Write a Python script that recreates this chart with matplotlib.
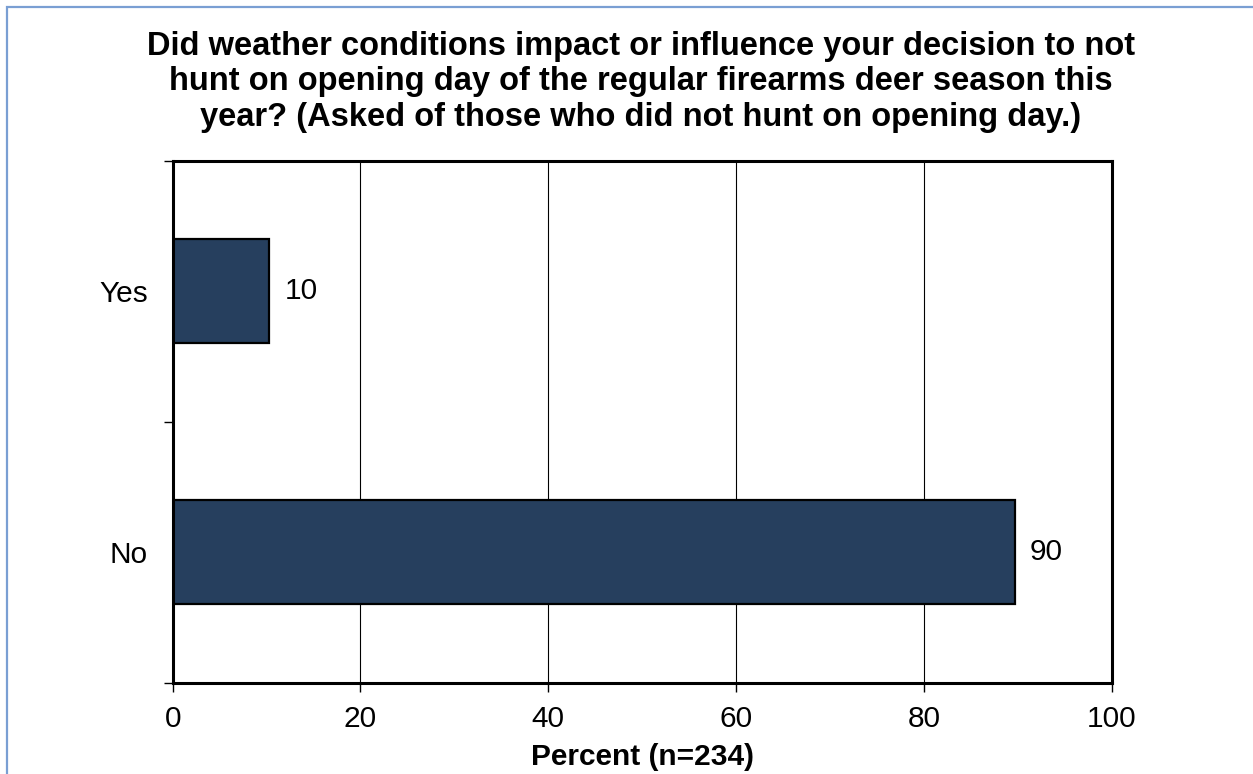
import matplotlib.pyplot as plt
from matplotlib.patches import Rectangle

plt.rcParams.update(
    {
        "font.family": ["Liberation Sans", "DejaVu Sans"],
        "figure.dpi": 100,
    }
)

categories = ["No", "Yes"]
percent = [89.7, 10.3]
bar_labels = ["90", "10"]
x_ticks = [0, 20, 40, 60, 80, 100]
title = (
    "Did weather conditions impact or influence your decision to not\n"
    "hunt on opening day of the regular firearms deer season this\n"
    "year? (Asked of those who did not hunt on opening day.)"
)
x_label = "Percent (n=234)"

BAR = "#263f5e"
FS = 21.5

fig = plt.figure(figsize=(12.53, 7.74))
ax = fig.add_axes([0.1378, 0.1182, 0.7494, 0.6742])

# light blue chart-area border (runs off the right and bottom edges)
fig.patches.append(
    Rectangle((6.5 / 1253, -0.05), 1.2, 1 - 6.5 / 774 + 0.05, transform=fig.transFigure,
              fill=False, ec="#7a9fd3", lw=1.6)
)

y = list(range(len(categories)))
ax.barh(y, percent, height=0.4, color=BAR, edgecolor="black", linewidth=1.6, zorder=3)
for yi, v, lab in zip(y, percent, bar_labels):
    ax.text(v + 1.6, yi, lab, ha="left", va="center", fontsize=FS, color="black")

ax.set_xlim(0, 100)
ax.set_ylim(-0.5, len(categories) - 0.5)
ax.set_xticks(x_ticks)
ax.set_xticklabels([str(t) for t in x_ticks], fontsize=FS)
ax.set_yticks(y)
ax.set_yticklabels(categories, fontsize=FS)
ax.set_yticks([i - 0.5 for i in range(len(categories) + 1)], minor=True)
ax.tick_params(axis="y", which="major", length=0, pad=18)
ax.tick_params(axis="y", which="minor", length=6.5, width=1, direction="out")
ax.tick_params(axis="x", length=6.5, width=1, direction="out", pad=10)

ax.grid(axis="x", color="black", lw=0.8, zorder=0)
for s in ax.spines.values():
    s.set_linewidth(2.2)
    s.set_zorder(4)

ax.set_xlabel(x_label, fontsize=FS, fontweight="bold", labelpad=7)

fig.text(641 / 1253, 1 - 31 / 774, title, ha="center", va="top", fontsize=23.5,
         fontweight="bold", linespacing=1.18, multialignment="center")

fig.savefig("out.png", dpi=100)
